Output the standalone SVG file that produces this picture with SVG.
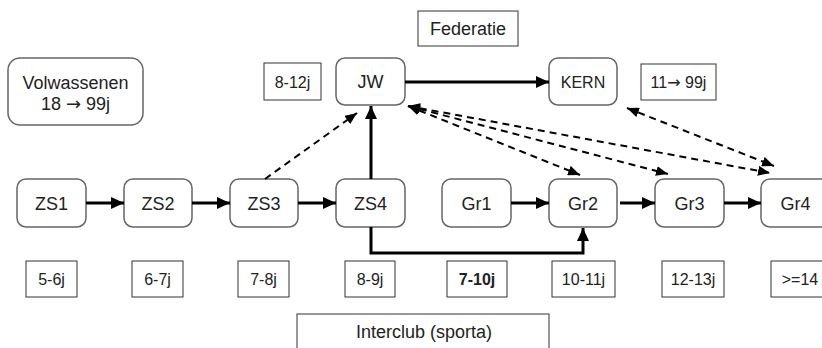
<svg xmlns="http://www.w3.org/2000/svg" width="822" height="348" viewBox="0 0 822 348">
<style>
.rn{fill:#fff;stroke:#666;stroke-width:1.5}
.bx{fill:#fff;stroke:#333;stroke-width:1}
text{font-family:"Liberation Sans",Arial,sans-serif;fill:#222;text-anchor:middle}
.t18{font-size:18px}
.t16{font-size:16px}
.ar{font-family:"DejaVu Sans",sans-serif}
.s{fill:none;stroke:#000;stroke-width:3}
.d{fill:none;stroke:#000;stroke-width:2;stroke-dasharray:7 5}
</style>
<defs>
<marker id="ah" markerUnits="userSpaceOnUse" markerWidth="14" markerHeight="12" refX="13" refY="6" orient="auto-start-reverse"><path d="M0,0 L13,6 L0,12 z" fill="#000"/></marker>
<marker id="dh" markerUnits="userSpaceOnUse" markerWidth="13" markerHeight="10" refX="12" refY="5" orient="auto-start-reverse"><path d="M0,0 L12,5 L0,10 z" fill="#000"/></marker>
</defs>
<rect width="822" height="348" fill="#fff"/>
<g id="volwassenen"><rect class="rn" x="8" y="58" width="135" height="67" rx="12"/><text class="t18" x="75.5" y="89">Volwassenen</text><text class="t18" x="75.5" y="110">18 <tspan class="ar">→</tspan> 99j</text></g>
<g id="age-8-12"><rect class="bx" x="264" y="63" width="57" height="37"/><text class="t16" x="292.5" y="88">8-12j</text></g>
<g id="jw"><rect class="rn" x="336" y="58" width="69" height="47" rx="9"/><text class="t18" x="370.5" y="88">JW</text></g>
<g id="federatie"><rect class="bx" x="418" y="11" width="100" height="35"/><text class="t18" x="468" y="35">Federatie</text></g>
<g id="kern"><rect class="rn" x="549" y="58" width="68" height="47" rx="9"/><text class="t16" x="583" y="88">KERN</text></g>
<g id="age-11-99"><rect class="bx" x="641" y="64" width="75" height="36"/><text class="t16" x="678.5" y="88">11<tspan class="ar">→</tspan> 99j</text></g>
<g id="zs1"><rect class="rn" x="17" y="179" width="69" height="48" rx="9"/><text class="t18" x="51.5" y="210">ZS1</text></g>
<g id="zs2"><rect class="rn" x="124" y="179" width="68" height="48" rx="9"/><text class="t18" x="158" y="210">ZS2</text></g>
<g id="zs3"><rect class="rn" x="230" y="179" width="68" height="48" rx="9"/><text class="t18" x="264" y="210">ZS3</text></g>
<g id="zs4"><rect class="rn" x="336" y="179" width="69" height="48" rx="9"/><text class="t18" x="370.5" y="210">ZS4</text></g>
<g id="gr1"><rect class="rn" x="442" y="179" width="69" height="48" rx="9"/><text class="t18" x="476.5" y="210">Gr1</text></g>
<g id="gr2"><rect class="rn" x="549" y="179" width="68" height="48" rx="9"/><text class="t18" x="583" y="210">Gr2</text></g>
<g id="gr3"><rect class="rn" x="655" y="179" width="69" height="48" rx="9"/><text class="t18" x="689.5" y="210">Gr3</text></g>
<g id="gr4"><rect class="rn" x="761" y="179" width="69" height="48" rx="9"/><text class="t18" x="795.5" y="210">Gr4</text></g>
<g id="age-5-6"><rect class="bx" x="26" y="261" width="51" height="36"/><text class="t16" x="51.5" y="285">5-6j</text></g>
<g id="age-6-7"><rect class="bx" x="132" y="261" width="51" height="36"/><text class="t16" x="157.5" y="285">6-7j</text></g>
<g id="age-7-8"><rect class="bx" x="238" y="261" width="51" height="36"/><text class="t16" x="263.5" y="285">7-8j</text></g>
<g id="age-8-9"><rect class="bx" x="345" y="261" width="50" height="36"/><text class="t16" x="370" y="285">8-9j</text></g>
<g id="age-7-10"><rect class="bx" x="447" y="261" width="60" height="36"/><text class="t16" x="477" y="285" font-weight="bold">7-10j</text></g>
<g id="age-10-11"><rect class="bx" x="552" y="261" width="63" height="36"/><text class="t16" x="583.5" y="285">10-11j</text></g>
<g id="age-12-13"><rect class="bx" x="662" y="261" width="62" height="36"/><text class="t16" x="693" y="285">12-13j</text></g>
<g id="age-14"><rect class="bx" x="771" y="261" width="60" height="36"/><text class="t16" x="800" y="285">&gt;=14</text></g>
<g id="interclub"><rect class="bx" x="297" y="314" width="252" height="40"/><text class="t18" x="424" y="338">Interclub (sporta)</text></g>
<g id="connectors">
<line class="s" x1="86" y1="203" x2="124" y2="203" marker-end="url(#ah)"/>
<line class="s" x1="192" y1="203" x2="230" y2="203" marker-end="url(#ah)"/>
<line class="s" x1="298" y1="203" x2="336" y2="203" marker-end="url(#ah)"/>
<line class="s" x1="511" y1="203" x2="549" y2="203" marker-end="url(#ah)"/>
<line class="s" x1="620" y1="203" x2="655" y2="203" marker-end="url(#ah)"/>
<line class="s" x1="724" y1="203" x2="761" y2="203" marker-end="url(#ah)"/>
<line class="s" x1="405" y1="82" x2="549" y2="82" marker-end="url(#ah)"/>
<line class="s" x1="371" y1="179" x2="371" y2="106" marker-end="url(#ah)"/>
<path class="s" d="M371,227 V253 H583 V228" marker-end="url(#ah)"/>
<line class="d" x1="265" y1="179" x2="357" y2="113" marker-end="url(#dh)"/>
<line class="d" x1="408" y1="106" x2="580" y2="175" marker-start="url(#dh)" marker-end="url(#dh)"/>
<line class="d" x1="408" y1="106" x2="668" y2="174" marker-start="url(#dh)" marker-end="url(#dh)"/>
<line class="d" x1="408" y1="106" x2="770" y2="173" marker-start="url(#dh)" marker-end="url(#dh)"/>
<line class="d" x1="627" y1="108" x2="774" y2="166" marker-start="url(#dh)" marker-end="url(#dh)"/>
</g>
</svg>
